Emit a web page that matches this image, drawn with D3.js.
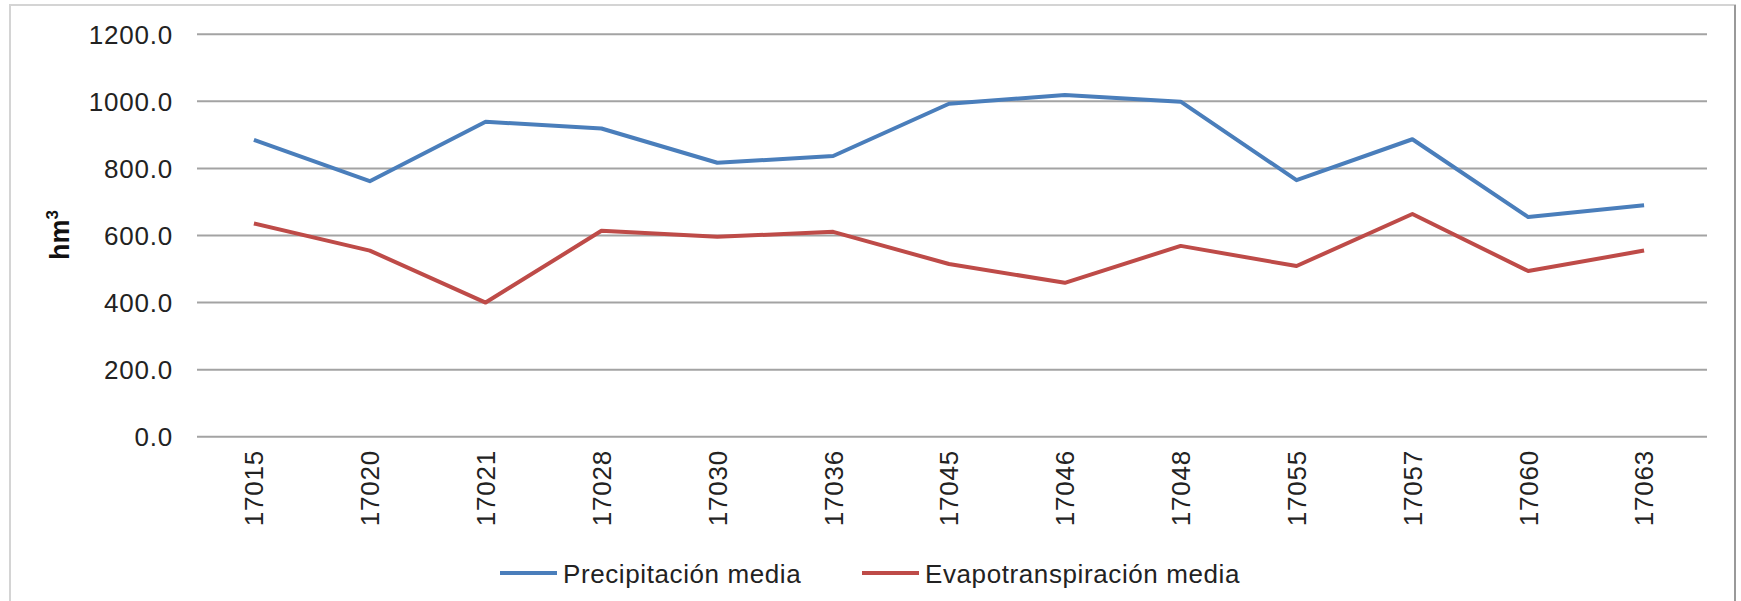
<!DOCTYPE html>
<html>
<head>
<meta charset="utf-8">
<script src="https://cdn.jsdelivr.net/npm/d3@7.9.0/dist/d3.min.js"></script>
<style>
  body { margin: 0; background: #fff; }
  svg { display: block; font-family: Arial, "Liberation Sans", sans-serif; }
</style>
</head>
<body>
<svg width="1741" height="601"></svg>
<script>
// Data
const codes = ['17015', '17020', '17021', '17028', '17030', '17036', '17045',
               '17046', '17048', '17055', '17057', '17060', '17063'];
const precipitacion = [885, 762, 939, 919, 817, 837, 993, 1019, 999, 765, 887, 655, 690];
const evapotranspiracion = [636, 555, 400, 614, 596, 611, 515, 459, 569, 509, 664, 494, 555];
const yTicks = [0, 200, 400, 600, 800, 1000, 1200];
const seriesNames = ['Precipitación media', 'Evapotranspiración media'];
const seriesColors = ['#4a7ebb', '#be4b48'];

let svg = d3.select('svg');

// Chart border
svg.append('rect')
  .attr('x', 10).attr('y', 5)
  .attr('width', 1725).attr('height', 640)
  .attr('fill', 'none')
  .attr('stroke', '#d4d4d4')
  .attr('stroke-width', 2);
svg.append('line')
  .attr('x1', 1735).attr('x2', 1735)
  .attr('y1', 5).attr('y2', 601)
  .attr('stroke', '#999')
  .attr('stroke-width', 2);

// Scales
let x = d3.scalePoint().domain(codes).range([196, 1702]).padding(0.5);
let y = d3.scaleLinear().domain([0, 1200]).range([436.7, 34.3]);

// Gridlines and y labels
let yAxis = svg.append('g');
yTicks.forEach((t) => {
  yAxis.append('line')
    .attr('x1', 197).attr('x2', 1707)
    .attr('y1', y(t)).attr('y2', y(t))
    .attr('stroke', '#a3a3a3')
    .attr('stroke-width', 2);
  yAxis.append('text')
    .attr('x', 173)
    .attr('y', y(t))
    .attr('dy', '0.36em')
    .attr('text-anchor', 'end')
    .attr('font-size', 26)
    .attr('letter-spacing', 0.8)
    .attr('fill', '#222')
    .text(d3.format('.1f')(t));
});

// Y axis title
let title = svg.append('text')
  .attr('transform', 'translate(69,235) rotate(-90)')
  .attr('text-anchor', 'middle')
  .attr('font-size', 27)
  .attr('font-weight', 'bold')
  .attr('fill', '#111');
title.append('tspan').text('hm');
title.append('tspan').attr('font-size', 17).attr('dy', -11).text('3');

// X labels, rotated
codes.forEach((c) => {
  svg.append('text')
    .attr('transform', `translate(${x(c)},450) rotate(-90)`)
    .attr('dy', '0.36em')
    .attr('text-anchor', 'end')
    .attr('font-size', 26)
    .attr('letter-spacing', 0.8)
    .attr('fill', '#222')
    .text(c);
});

// Lines
let line = d3.line()
  .x((d, i) => x(codes[i]))
  .y((d) => y(d));

[precipitacion, evapotranspiracion].forEach((values, i) => {
  svg.append('path')
    .attr('d', line(values))
    .attr('fill', 'none')
    .attr('stroke', seriesColors[i])
    .attr('stroke-width', 4)
    .attr('stroke-linejoin', 'round');
});

// Legend
let legendX = [500, 862];
seriesNames.forEach((name, i) => {
  svg.append('line')
    .attr('x1', legendX[i]).attr('x2', legendX[i] + 57)
    .attr('y1', 573).attr('y2', 573)
    .attr('stroke', seriesColors[i])
    .attr('stroke-width', 4);
  svg.append('text')
    .attr('x', legendX[i] + 63)
    .attr('y', 574)
    .attr('dy', '0.36em')
    .attr('font-size', 26)
    .attr('letter-spacing', 0.6)
    .attr('fill', '#222')
    .text(name);
});
</script>
</body>
</html>
